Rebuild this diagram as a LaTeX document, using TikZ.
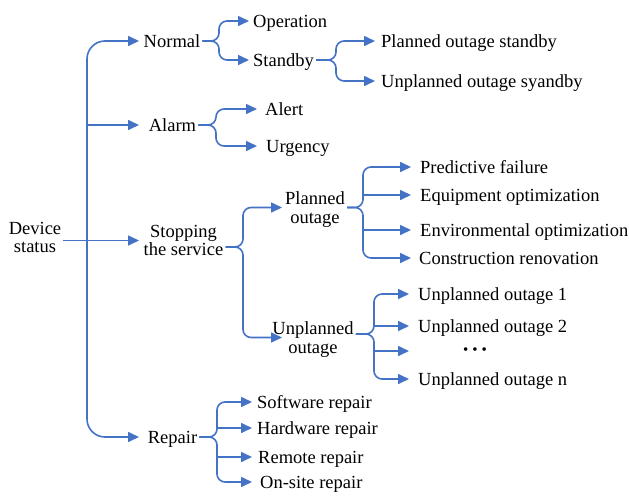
\documentclass[tikz,border=0pt]{standalone}
\usepackage{fontspec}
\setmainfont{Liberation Serif}
\usetikzlibrary{arrows.meta}
\definecolor{lineblue}{HTML}{4472C4}
\begin{document}
\begin{tikzpicture}[x=1pt,y=-1pt,
  every node/.style={font=\fontsize{18.5}{18.5}\selectfont, inner xsep=2pt, inner ysep=0pt},
  lbl/.style={text height=12.2pt, text depth=0pt},
  lblw/.style={lbl, anchor=west},
  lbl2/.style={align=center, text depth=0pt},
  arr/.style={draw=lineblue, line width=1.6pt, -{Triangle[length=11pt,width=10pt]}},
  bigrc/.style={rounded corners=18pt},
  smallrc/.style={rounded corners=8pt}]
\useasboundingbox (0,0) rectangle (629,498);
% nodes
\node[lbl2] (dev) at (35,237.5) {Device\\status};
\node[lbl] (normal) at (172,41) {Normal};
\node[lbl] (alarm) at (172.5,125) {Alarm};
\node[lbl2] (stop) at (183.5,240.5) {Stopping\\the service};
\node[lbl] (repair) at (172.5,437) {Repair};
\node[lblw] (op) at (251,21) {Operation};
\node[lblw] (sb) at (251,60) {Standby};
\node[lblw] (pos) at (379,41) {Planned outage standby};
\node[lblw] (uos) at (379,81) {Unplanned outage syandby};
\node[lblw] (alert) at (263,109) {Alert};
\node[lblw] (urg) at (264,146) {Urgency};
\node[lbl2] (po) at (315,207.5) {Planned\\outage};
\node[lbl2] (uo) at (313,337.5) {Unplanned\\outage};
\node[lblw] (pf) at (418,167) {Predictive failure};
\node[lblw] (eo) at (418,195) {Equipment optimization};
\node[lblw] (env) at (418,230) {Environmental optimization};
\node[lblw] (cr) at (417,258) {Construction renovation};
\node[lblw] (u1) at (416,294) {Unplanned outage 1};
\node[lblw] (u2) at (416,326) {Unplanned outage 2};
\node (dots) at (475,351) {\fontsize{15}{15}\selectfont •\hspace{4pt}•\hspace{4pt}•};
\node[lblw] (un) at (416,379) {Unplanned outage n};
\node[lblw] (sw) at (255,402) {Software repair};
\node[lblw] (hw) at (255,428) {Hardware repair};
\node[lblw] (rr) at (256,457) {Remote repair};
\node[lblw] (os) at (258,482) {On-site repair};
% column coordinates
\coordinate (tr) at (87,0);
\coordinate (t1) at (139,0);
\coordinate (bN) at (219,0); \coordinate (tN) at (249,0);
\coordinate (bA) at (216,0); \coordinate (tA) at (257,0);
\coordinate (bSb) at (336,0); \coordinate (tSb) at (375,0);
\coordinate (bS) at (243,0); \coordinate (tS) at (282,0);
\coordinate (bP) at (363,0); \coordinate (tP) at (411,0);
\coordinate (bU) at (374,0); \coordinate (tU) at (409,0);
\coordinate (bR) at (217,0); \coordinate (tR) at (252,0);
% trunk
\draw[arr] (dev.east |- stop) -- (t1 |- stop);
\draw[arr,bigrc] (tr |- stop) |- (t1 |- normal);
\draw[arr,bigrc] (tr |- stop) |- (t1 |- repair);
\draw[arr] (tr |- alarm) -- (t1 |- alarm);
% normal
\draw[arr,smallrc] (normal.east) -| (bN |- op) -- (tN |- op);
\draw[arr,smallrc] (normal.east) -| (bN |- sb) -- (tN |- sb);
% standby
\draw[arr,smallrc] (sb.east) -| (bSb |- pos) -- (tSb |- pos);
\draw[arr,smallrc] (sb.east) -| (bSb |- uos) -- (tSb |- uos);
% alarm
\draw[arr,smallrc] (alarm.east) -| (bA |- alert) -- (tA |- alert);
\draw[arr,smallrc] (alarm.east) -| (bA |- urg) -- (tA |- urg);
% stopping
\draw[arr,smallrc] ([yshift=-6.5pt]stop.east) -| (bS |- po) -- (tS |- po);
\draw[arr,smallrc] ([yshift=-6.5pt]stop.east) -| (bS |- uo) -- (tS |- uo);
% planned outage
\draw[arr,smallrc] (po.east) -| (bP |- pf) -- (tP |- pf);
\draw[arr,smallrc] (po.east) -| (bP |- cr) -- (tP |- cr);
\draw[arr] (bP |- eo) -- (tP |- eo);
\draw[arr] (bP |- env) -- (tP |- env);
% unplanned outage
\draw[arr,smallrc] ([yshift=3.5pt]uo.east) -| (bU |- u1) -- (tU |- u1);
\draw[arr,smallrc] ([yshift=3.5pt]uo.east) -| (bU |- un) -- (tU |- un);
\draw[arr] (bU |- u2) -- (tU |- u2);
\draw[arr] (bU |- dots) -- (tU |- dots);
% repair
\draw[arr,smallrc] (repair.east) -| (bR |- sw) -- (tR |- sw);
\draw[arr,smallrc] (repair.east) -| (bR |- os) -- (tR |- os);
\draw[arr] (bR |- hw) -- (tR |- hw);
\draw[arr] (bR |- rr) -- (tR |- rr);
\end{tikzpicture}
\end{document}
